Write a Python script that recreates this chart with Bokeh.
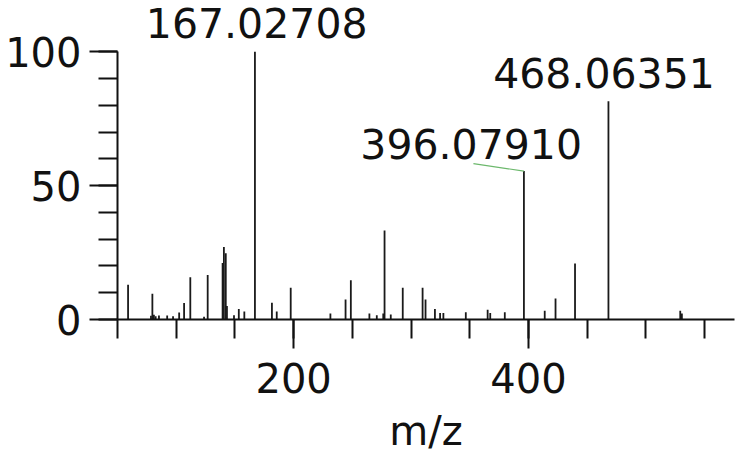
from bokeh.plotting import figure
from bokeh.models import Range1d, FixedTicker, ColumnDataSource
from bokeh.core.properties import value
from bokeh.embed import file_html
from bokeh.resources import INLINE

# Peak list: m/z and relative abundance (%)
mz = [59.0, 78.5, 79.7, 81.0, 82.5, 85.3, 92.3, 97.3, 102.5, 106.7, 112.0,
      123.7, 126.8, 139.5, 140.6, 142.2, 143.2, 149.2, 153.3, 158.0,
      167.02708, 181.5, 185.6, 197.5, 231.3, 244.2, 248.7, 264.5, 270.8,
      276.3, 277.4, 282.7, 292.9, 309.8, 312.3, 320.3, 324.7, 327.5, 346.6,
      365.2, 367.4, 379.8, 396.07910, 413.8, 423.0, 439.6, 468.06351,
      529.2, 530.6]
intensity = [13.0, 1.4, 9.6, 1.8, 1.2, 1.5, 1.5, 1.2, 2.6, 6.2, 15.8,
             1.0, 16.6, 21.1, 27.1, 24.7, 5.0, 1.6, 3.9, 3.0,
             100.0, 6.3, 3.0, 11.9, 2.2, 7.5, 14.7, 2.2, 1.6,
             2.2, 33.2, 1.9, 11.9, 11.9, 7.5, 3.9, 2.4, 2.4, 2.7,
             3.6, 2.4, 2.7, 55.4, 3.3, 7.8, 20.9, 81.5,
             3.3, 2.2]

# Annotated peaks
label_mz = [167.02708, 468.06351, 396.07910]
label_int = [100.0, 81.5, 55.4]
label_text = ["167.02708", "468.06351", "396.07910"]

x_major = [200, 400]
x_minor = [50, 100, 150, 200, 250, 300, 350, 400, 450, 500, 550]
y_major = [0, 50, 100]
y_minor = [0, 10, 20, 30, 40, 50, 60, 70, 80, 90, 100]

FONT = "DejaVu Sans"

p = figure(width=736, height=456, output_backend="svg", toolbar_location=None,
           x_range=Range1d(50, 575.4), y_range=Range1d(0, 119.1),
           min_border_left=117, min_border_right=2, min_border_top=0,
           min_border_bottom=135)
p.outline_line_color = None
p.xgrid.visible = False
p.ygrid.visible = False
p.background_fill_color = "white"
p.border_fill_color = "white"

# spectrum sticks
src = ColumnDataSource(dict(x=mz, y0=[0] * len(mz), y1=intensity))
p.segment(x0="x", y0="y0", x1="x", y1="y1", source=src,
          line_color="#1a1a1a", line_width=1.8)

# peak labels: placement relative to each peak (data units)
shift = {"167.02708": (1.5, 10.6), "468.06351": (-3.8, 10.7), "396.07910": (-44.9, 10.3)}
lsrc = ColumnDataSource(dict(
    x=[m + shift[t][0] for m, t in zip(label_mz, label_text)],
    y=[h + shift[t][1] for h, t in zip(label_int, label_text)],
    text=label_text))
p.text(x="x", y="y", text="text", source=lsrc,
       text_font=value(FONT), text_font_size="41px", text_color="#111111",
       text_align="center", text_baseline="alphabetic")

# green leader line to the 396 peak
i396 = label_mz.index(396.07910)
pk_x, pk_y = label_mz[i396], label_int[i396]
p.segment(x0=[pk_x - 43.0], y0=[pk_y + 2.8], x1=[pk_x], y1=[pk_y],
          line_color="#6cb86c", line_width=1.2)

# axes
for ax in (p.xaxis[0], p.yaxis[0]):
    ax.axis_line_color = "#111111"
    ax.axis_line_width = 2
    ax.major_tick_line_color = "#111111"
    ax.minor_tick_line_color = "#111111"
    ax.major_tick_line_width = 2
    ax.minor_tick_line_width = 2
    ax.major_tick_in = 0
    ax.minor_tick_in = 0
    ax.major_label_text_font = FONT
    ax.major_label_text_font_size = "40px"
    ax.major_label_text_color = "#111111"

xa = p.xaxis[0]
xa.ticker = FixedTicker(ticks=x_major, minor_ticks=x_minor)
xa.major_tick_out = 29
xa.minor_tick_out = 19
xa.major_label_standoff = 14
xa.axis_label = "m/z"
xa.axis_label_text_font = FONT
xa.axis_label_text_font_size = "40px"
xa.axis_label_text_font_style = "normal"
xa.axis_label_text_color = "#111111"
xa.axis_label_standoff = 12

ya = p.yaxis[0]
ya.ticker = FixedTicker(ticks=y_major, minor_ticks=y_minor)
ya.bounds = (0, 100)
ya.major_tick_out = 28
ya.minor_tick_out = 19
ya.major_label_standoff = 8

open("out.html", "w").write(file_html(p, INLINE))
